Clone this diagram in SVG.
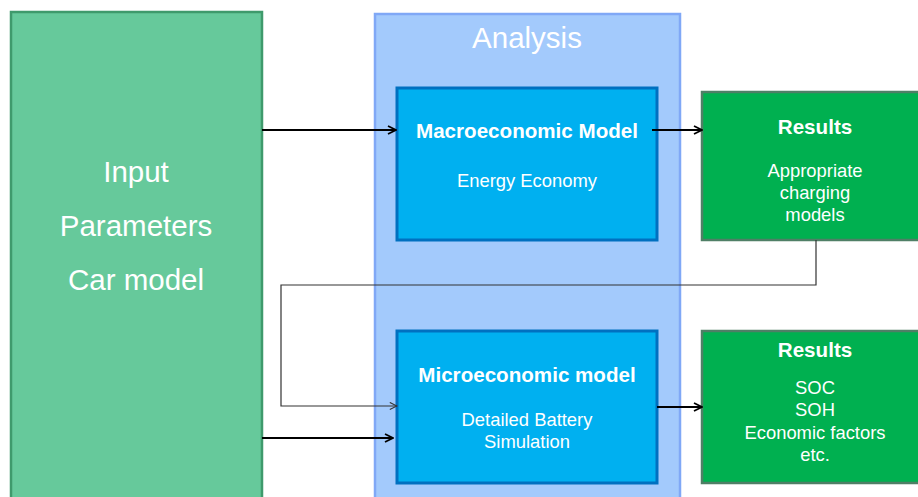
<svg xmlns="http://www.w3.org/2000/svg" width="918" height="497" viewBox="0 0 918 497">
  <defs>
    <style>
      text { font-family: "Liberation Sans", Arial, sans-serif; fill: #ffffff; text-anchor: middle; }
      .big { font-size: 29.5px; }
      .title { font-size: 20.6px; font-weight: bold; }
      .body { font-size: 18.4px; }
      .model { fill: #00b0f0; stroke: #0070c0; stroke-width: 3; }
      .result { fill: #00b050; stroke: #4f7f66; stroke-width: 2.5; }
      .conn { fill: none; stroke: #000000; stroke-width: 2; }
      .thin { fill: none; stroke: #333333; stroke-width: 1.2; }
    </style>
    <marker id="arrow" viewBox="0 0 10 10" refX="9" refY="5" markerWidth="10" markerHeight="10" markerUnits="userSpaceOnUse" orient="auto">
      <path d="M1,1 L9,5 L1,9" fill="none" stroke="#000000" stroke-width="1.8"/>
    </marker>
    <marker id="arrow-thin" viewBox="0 0 10 10" refX="9" refY="5" markerWidth="9" markerHeight="9" markerUnits="userSpaceOnUse" orient="auto">
      <path d="M1,1 L9,5 L1,9" fill="none" stroke="#333333" stroke-width="1.2"/>
    </marker>
  </defs>

  <rect width="918" height="497" fill="#ffffff"/>

  <g id="input">
    <rect x="11" y="12" width="251" height="500" fill="#66c99b" stroke="#3f9a6c" stroke-width="2.5"/>
    <text class="big" x="136" y="182">Input</text>
    <text class="big" x="136" y="236">Parameters</text>
    <text class="big" x="136" y="290">Car model</text>
  </g>

  <g id="analysis">
    <rect x="375" y="14" width="305" height="500" fill="#a3cafc" stroke="#80a8f6" stroke-width="2.5"/>
    <text class="big" x="527" y="48" fill="#f2f7ff">Analysis</text>
  </g>

  <g id="macro">
    <rect class="model" x="397" y="88" width="260" height="152"/>
    <text class="title" x="527" y="138">Macroeconomic Model</text>
    <text class="body" x="527" y="187">Energy Economy</text>
  </g>

  <g id="micro">
    <rect class="model" x="397" y="331" width="260" height="152"/>
    <text class="title" x="527" y="382">Microeconomic model</text>
    <text class="body" x="527" y="426">Detailed Battery</text>
    <text class="body" x="527" y="448">Simulation</text>
  </g>

  <g id="results-macro">
    <rect class="result" x="702" y="92" width="230" height="148"/>
    <text class="title" x="815" y="134">Results</text>
    <text class="body" x="815" y="177">Appropriate</text>
    <text class="body" x="815" y="199">charging</text>
    <text class="body" x="815" y="221">models</text>
  </g>

  <g id="results-micro">
    <rect class="result" x="702" y="331" width="230" height="152"/>
    <text class="title" x="815" y="357">Results</text>
    <text class="body" x="815" y="394">SOC</text>
    <text class="body" x="815" y="416">SOH</text>
    <text class="body" x="815" y="439">Economic factors</text>
    <text class="body" x="815" y="461">etc.</text>
  </g>

  <g id="connectors">
    <line class="conn" x1="262" y1="130" x2="396" y2="130" marker-end="url(#arrow)"/>
    <line class="conn" x1="652" y1="130" x2="702" y2="130" marker-end="url(#arrow)"/>
    <polyline class="thin" points="816,240 816,285 281,285 281,406 397,406" marker-end="url(#arrow-thin)"/>
    <line class="conn" x1="262" y1="438" x2="393" y2="438" marker-end="url(#arrow)"/>
    <line class="conn" x1="657" y1="407" x2="702" y2="407" marker-end="url(#arrow)"/>
  </g>
</svg>
